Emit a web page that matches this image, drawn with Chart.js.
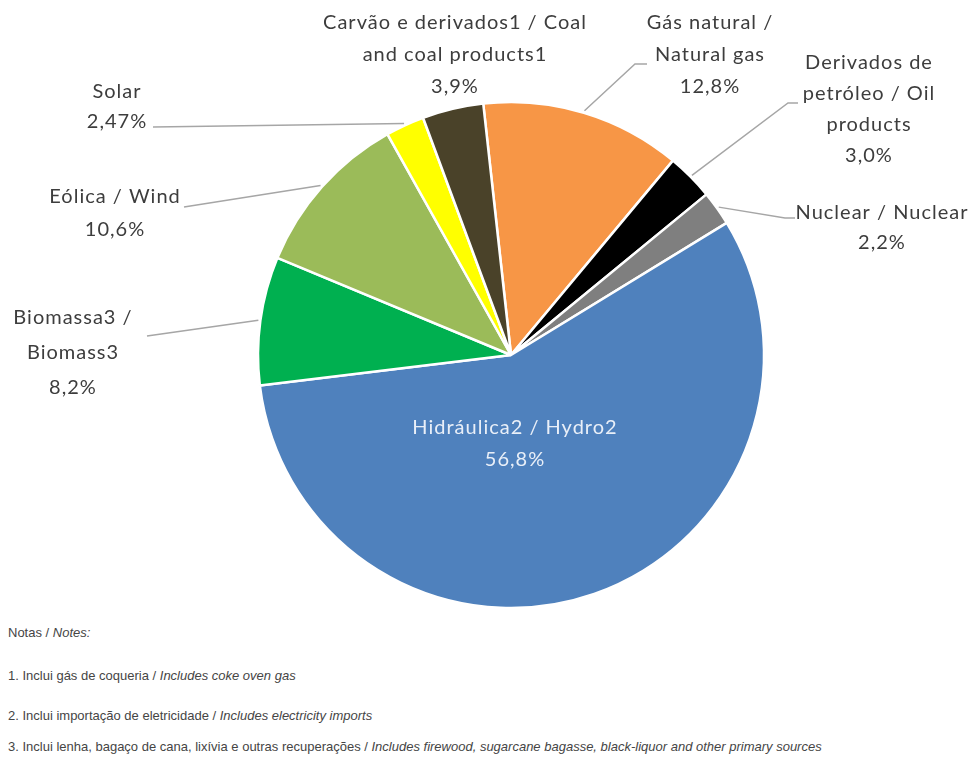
<!DOCTYPE html>
<html>
<head>
<meta charset="utf-8">
<script src="https://cdn.jsdelivr.net/npm/chart.js@4"></script>
<style>
  body { margin: 0; background: #fff; }
  #wrap { position: relative; width: 976px; height: 758px; overflow: hidden; }
  #pie { position: absolute; left: 0; top: 0; }
  .note {
    position: absolute; left: 8px; height: 16px; line-height: 16px;
    font-family: "Liberation Sans Narrow", "Liberation Sans", sans-serif;
    font-size: 13px; color: #454545; white-space: nowrap;
  }
</style>
</head>
<body>
<div id="wrap">
  <canvas id="pie" width="976" height="612"></canvas>
  <div class="note" style="top:625px">Notas / <i>Notes:</i></div>
  <div class="note" style="top:668px">1. Inclui gás de coqueria / <i>Includes coke oven gas</i></div>
  <div class="note" style="top:708px">2. Inclui importação de eletricidade / <i>Includes electricity imports</i></div>
  <div class="note" style="top:739px">3. Inclui lenha, bagaço de cana, lixívia e outras recuperações / <i>Includes firewood, sugarcane bagasse, black-liquor and other primary sources</i></div>
</div>
<script>
// clockwise from the top
const nameLines = [
  ['Gás natural /', 'Natural gas'],
  ['Derivados de', 'petróleo / Oil', 'products'],
  ['Nuclear / Nuclear'],
  ['Hidráulica2 / Hydro2'],
  ['Biomassa3 /', 'Biomass3'],
  ['Eólica / Wind'],
  ['Solar'],
  ['Carvão e derivados1 / Coal', 'and coal products1']
];
const shares = [12.8, 3.0, 2.2, 56.8, 8.2, 10.6, 2.47, 3.9];
const sliceColors = ['#F79646', '#000000', '#7F7F7F', '#4F81BD', '#00B050', '#9BBB59', '#FFFF00', '#4A4229'];

// where each label sits and how its leader line runs (after leaving the slice)
const labelSpots = [
  { x: 710, y: 23, lh: 32, lead: [[635, 64], [647, 64]] },
  { x: 869, y: 63, lh: 31, lead: [[788, 103], [798, 103]] },
  { x: 882, y: 213, lh: 30, lead: [[785, 218], [795, 218]] },
  { x: 515, y: 428, lh: 32, color: '#E9EFF8' },
  { x: 73, y: 318, lh: 35, lead: [[147, 336]] },
  { x: 115, y: 197, lh: 33, lead: [[184, 207]] },
  { x: 117, y: 92, lh: 30, lead: [[153, 127]] },
  { x: 455, y: 23, lh: 32 }
];

function pct(v) {
  const digits = Math.round(v * 100) % 10 !== 0 ? 2 : 1;
  return v.toFixed(digits).replace('.', ',') + '%';
}

const leaderLabels = {
  id: 'leaderLabels',
  afterDatasetsDraw(chart) {
    const ctx = chart.ctx;
    const arcs = chart.getDatasetMeta(0).data;
    ctx.save();
    arcs.forEach((arc, i) => {
      const spot = labelSpots[i];
      const { x, y, startAngle, endAngle, outerRadius } =
        arc.getProps(['x', 'y', 'startAngle', 'endAngle', 'outerRadius'], true);
      const mid = (startAngle + endAngle) / 2;
      if (spot.lead) {
        ctx.beginPath();
        ctx.moveTo(x + Math.cos(mid) * (outerRadius + 2), y + Math.sin(mid) * (outerRadius + 2));
        spot.lead.forEach(p => ctx.lineTo(p[0], p[1]));
        ctx.strokeStyle = '#a6a6a6';
        ctx.lineWidth = 1.5;
        ctx.stroke();
      }
      const lines = nameLines[i].concat(pct(shares[i]));
      ctx.font = '20px Lato, "Open Sans", sans-serif';
      ctx.letterSpacing = '1px';
      ctx.fillStyle = spot.color || '#3d3d3d';
      ctx.textAlign = 'center';
      ctx.textBaseline = 'middle';
      lines.forEach((t, k) => ctx.fillText(t, spot.x, spot.y + k * spot.lh));
    });
    ctx.restore();
  }
};

new Chart(document.getElementById('pie'), {
  type: 'pie',
  data: {
    labels: nameLines.map(l => l.join(' ')),
    datasets: [{
      data: shares,
      backgroundColor: sliceColors,
      borderColor: '#ffffff',
      borderWidth: 2.5,
      radius: 253
    }]
  },
  options: {
    responsive: false,
    animation: false,
    rotation: -6.3,
    layout: { padding: { left: 46, right: 0, top: 100, bottom: 2 } },
    plugins: {
      legend: { display: false },
      tooltip: { enabled: false }
    }
  },
  plugins: [leaderLabels]
});
</script>
</body>
</html>
